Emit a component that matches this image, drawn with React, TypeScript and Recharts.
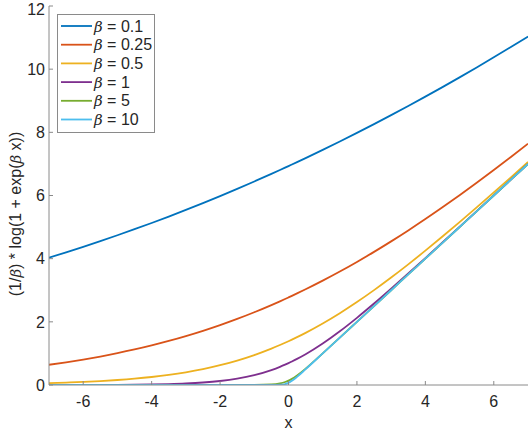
import React from "react";
import { LineChart, Line, XAxis, YAxis, Legend } from "recharts";

const xs = [-7, -6.5, -6, -5.5, -5, -4.5, -4, -3.5, -3, -2.5, -2, -1.5, -1, -0.5, -0.25, -0.1, 0, 0.1, 0.25, 0.5, 1, 1.5, 2, 2.5, 3, 3.5, 4, 4.5, 5, 5.5, 6, 6.5, 7];

const b01 = [4.0318, 4.2008, 4.3749, 4.555, 4.7408, 4.9325, 5.1302, 5.3339, 5.5436, 5.7593, 5.9813, 6.2095, 6.4439, 6.6846, 6.8073, 6.8817, 6.9315, 6.9817, 7.0573, 7.1846, 7.4439, 7.7095, 7.9813, 8.2593, 8.5436, 8.8339, 9.1302, 9.4325, 9.7408, 10.055, 10.3749, 10.7008, 11.0318];
const b025 = [0.6409, 0.719, 0.8056, 0.9016, 1.0077, 1.1246, 1.253, 1.3938, 1.5475, 1.7148, 1.8963, 2.0925, 2.3037, 2.5304, 2.6496, 2.7229, 2.7726, 2.8229, 2.8996, 3.0304, 3.3037, 3.5925, 3.8963, 4.2148, 4.5475, 4.8938, 5.253, 5.6246, 6.0077, 6.4016, 6.8056, 7.219, 7.6409];
const b05 = [0.0595, 0.0761, 0.0972, 0.1239, 0.1578, 0.2004, 0.2539, 0.3204, 0.4028, 0.5039, 0.6265, 0.7737, 0.9482, 1.1519, 1.2652, 1.3369, 1.3863, 1.4369, 1.5152, 1.6519, 1.9482, 2.2737, 2.6265, 3.0039, 3.4028, 3.8204, 4.2539, 4.7004, 5.1578, 5.6239, 6.0972, 6.5761, 7.0595];
const b1 = [0.0009, 0.0015, 0.0025, 0.0041, 0.0067, 0.011, 0.0181, 0.0298, 0.0486, 0.0789, 0.1269, 0.2014, 0.3133, 0.4741, 0.5759, 0.6444, 0.6931, 0.7444, 0.8259, 0.9741, 1.3133, 1.7014, 2.1269, 2.5789, 3.0486, 3.5298, 4.0181, 4.511, 5.0067, 5.5041, 6.0025, 6.5015, 7.0009];
const b5 = [0, 0, 0, 0, 0, 0, 0, 0, 0, 0, 0, 0.0001, 0.0013, 0.0158, 0.0504, 0.0948, 0.1386, 0.1948, 0.3004, 0.5158, 1.0013, 1.5001, 2, 2.5, 3, 3.5, 4, 4.5, 5, 5.5, 6, 6.5, 7];
const b10 = [0, 0, 0, 0, 0, 0, 0, 0, 0, 0, 0, 0, 0, 0.0007, 0.0079, 0.0313, 0.0693, 0.1313, 0.2579, 0.5007, 1, 1.5, 2, 2.5, 3, 3.5, 4, 4.5, 5, 5.5, 6, 6.5, 7];

const xTicks = [-6, -4, -2, 0, 2, 4, 6];
const yTicks = [0, 2, 4, 6, 8, 10, 12];

const seriesNames = ["0.1", "0.25", "0.5", "1", "5", "10"];
const seriesKeys = ["b01", "b025", "b05", "b1", "b5", "b10"];
const seriesValues = [b01, b025, b05, b1, b5, b10];
const colors = ["#0072BD", "#D95319", "#EDB120", "#7E2F8E", "#77AC30", "#4DBEEE"];

const data = xs.map((x, i) => {
  const row: Record<string, number> = { x };
  seriesKeys.forEach((k, j) => {
    row[k] = seriesValues[j][i];
  });
  return row;
});

const FONT = "'Liberation Sans', Arial, Helvetica, sans-serif";
const SERIF = "'DejaVu Serif', 'Liberation Serif', serif";
const TXT = "#262626";
const AX = "#8a8a8a";

const LegendBox = () => (
  <div
    style={{
      width: 98,
      height: 119,
      border: "1px solid " + AX,
      background: "#fff",
      boxSizing: "border-box",
    }}
  >
    <svg width={96} height={117} style={{ display: "block" }}>
      {seriesNames.map((n, i) => {
        const y = 11 + i * 18.7;
        return (
          <g key={n}>
            <line x1={3} x2={34} y1={y} y2={y} stroke={colors[i]} strokeWidth={1.8} />
            <text x={36} y={y + 5.5} fontFamily={FONT} fontSize={16} fill={TXT}>
              <tspan fontFamily={SERIF} fontStyle="italic" fontSize={15}>β</tspan>
              <tspan> = {n}</tspan>
            </text>
          </g>
        );
      })}
    </svg>
  </div>
);

const YLabel = () => (
  <text
    x={21}
    y={214}
    transform="rotate(-90 21 214)"
    textAnchor="middle"
    fontFamily={FONT}
    fontSize={16}
    fill={TXT}
  >
    <tspan>(1/</tspan>
    <tspan fontFamily={SERIF} fontStyle="italic" fontSize={15}>β</tspan>
    <tspan>) * log(1 + exp(</tspan>
    <tspan fontFamily={SERIF} fontStyle="italic" fontSize={15}>β</tspan>
    <tspan> x))</tspan>
  </text>
);

const XLabel = () => (
  <text x={288.5} y={428} textAnchor="middle" fontFamily={FONT} fontSize={16} fill={TXT}>
    x
  </text>
);

const hiddenTick = () => <g />;

export default function App() {
  return (
    <div style={{ position: "absolute", left: 0, top: 0, width: 530, height: 430, background: "#fff" }}>
      <LineChart
        width={530}
        height={430}
        data={data}
        margin={{ top: 6, right: 2, bottom: 0, left: 0 }}
      >
        <XAxis
          xAxisId="b"
          dataKey="x"
          type="number"
          domain={[-7, 7]}
          ticks={xTicks}
          height={45}
          tickSize={-4}
          tickMargin={15}
          stroke={AX}
          tick={{ fill: TXT, fontSize: 16, fontFamily: FONT }}
          label={<XLabel />}
          allowDataOverflow
        />
        <XAxis
          xAxisId="t"
          orientation="top"
          dataKey="x"
          type="number"
          domain={[-7, 7]}
          ticks={xTicks}
          height={0}
          tickSize={-4}
          stroke={AX}
          tick={hiddenTick}
          allowDataOverflow
        />
        <YAxis
          yAxisId="l"
          type="number"
          domain={[0, 12]}
          ticks={yTicks}
          width={49}
          tickSize={-4}
          tickMargin={8}
          stroke={AX}
          tick={{ fill: TXT, fontSize: 16, fontFamily: FONT }}
          label={<YLabel />}
          allowDataOverflow
        />
        <YAxis
          yAxisId="r"
          orientation="right"
          type="number"
          domain={[0, 12]}
          ticks={yTicks}
          width={0}
          tickSize={-4}
          stroke={AX}
          tick={hiddenTick}
          allowDataOverflow
        />
        <Legend
          layout="vertical"
          verticalAlign="middle"
          align="center"
          wrapperStyle={{ left: 57, top: 14, width: 98, height: 119 }}
          content={() => <LegendBox />}
        />
        {seriesKeys.map((k, i) => (
          <Line
            key={k}
            xAxisId="b"
            yAxisId="l"
            type="monotone"
            dataKey={k}
            stroke={colors[i]}
            strokeWidth={1.8}
            dot={false}
            activeDot={false}
            isAnimationActive={false}
          />
        ))}
      </LineChart>
    </div>
  );
}
